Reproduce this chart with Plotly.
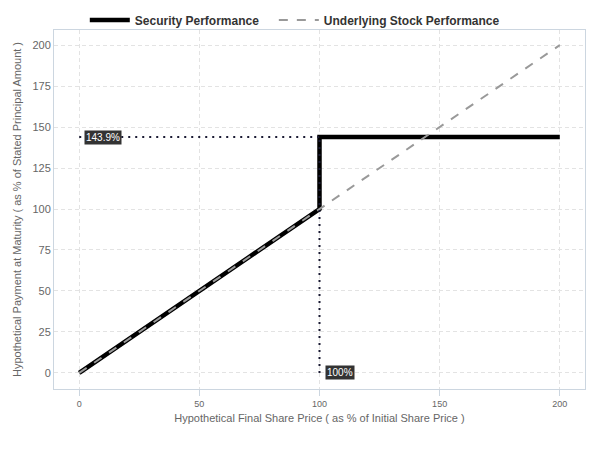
import plotly.graph_objects as go

sec_x = [0, 100, 100, 200]
sec_y = [0, 100, 143.9, 143.9]
stock_x = [0, 200]
stock_y = [0, 200]
cap_level = 143.9
strike = 100
x_ticks = [0, 50, 100, 150, 200]
y_ticks = [0, 25, 50, 75, 100, 125, 150, 175, 200]

fig = go.Figure()
fig.add_trace(go.Scatter(x=sec_x, y=sec_y, mode="lines", name="Security Performance",
                         line=dict(color="black", width=4.5), legend="legend"))
fig.add_trace(go.Scatter(x=stock_x, y=stock_y, mode="lines", name="Underlying Stock Performance",
                         line=dict(color="#999999", width=2, dash="dash"), legend="legend2"))
# reference lines
fig.add_trace(go.Scatter(x=[0, strike], y=[cap_level, cap_level], mode="lines", showlegend=False,
                         line=dict(color="#1a1a33", width=2, dash="2px,5px"), hoverinfo="skip"))
fig.add_trace(go.Scatter(x=[strike, strike], y=[0, cap_level], mode="lines", showlegend=False,
                         line=dict(color="#1a1a33", width=2, dash="2px,5px"), hoverinfo="skip"))

fig.add_annotation(x=0, y=cap_level, text="143.9%", showarrow=False, xanchor="left", xshift=5,
                   font=dict(color="white", size=10, family="Arial"), bgcolor="#333333",
                   borderpad=1)
fig.add_annotation(x=strike, y=0, text="100%", showarrow=False, xanchor="left", xshift=5,
                   font=dict(color="white", size=10, family="Arial"), bgcolor="#333333",
                   borderpad=1)

leg_common = dict(orientation="h", yanchor="middle", y=1.028, xanchor="left",
                  bgcolor="rgba(0,0,0,0)",
                  font=dict(size=12, color="#333333", family="Arial", weight="bold"),
                  itemwidth=40)
fig.update_layout(
    width=600, height=450,
    margin=dict(l=54, r=15, t=30, b=61, autoexpand=False),
    paper_bgcolor="white", plot_bgcolor="white",
    font=dict(family="Arial, Liberation Sans", color="#666666"),
    legend=dict(x=0.058, **leg_common),
    legend2=dict(x=0.414, **leg_common),
    showlegend=True,
)
fig.update_xaxes(range=[-10.5, 210.5], tickvals=x_ticks, tickfont=dict(size=9, color="#666666"),
                 showgrid=True, gridcolor="#e3e3e3", griddash="4px,3px", zeroline=False,
                 showline=True, linecolor="#ccd6e0", mirror=True,
                 ticks="outside", ticklen=6, tickcolor="#ccd6e0",
                 title=dict(text="Hypothetical Final Share Price ( as % of Initial Share Price )",
                            font=dict(size=11, color="#666666"), standoff=6))
fig.update_yaxes(range=[-9.8, 209.2], tickvals=y_ticks, tickfont=dict(size=11, color="#666666"),
                 showgrid=True, gridcolor="#e3e3e3", griddash="4px,3px", zeroline=False,
                 showline=True, linecolor="#ccd6e0", mirror=True,
                 title=dict(text="Hypothetical Payment at Maturity ( as % of Stated Principal Amount )",
                            font=dict(size=11, color="#666666"), standoff=8))

fig.write_html("out.html")
